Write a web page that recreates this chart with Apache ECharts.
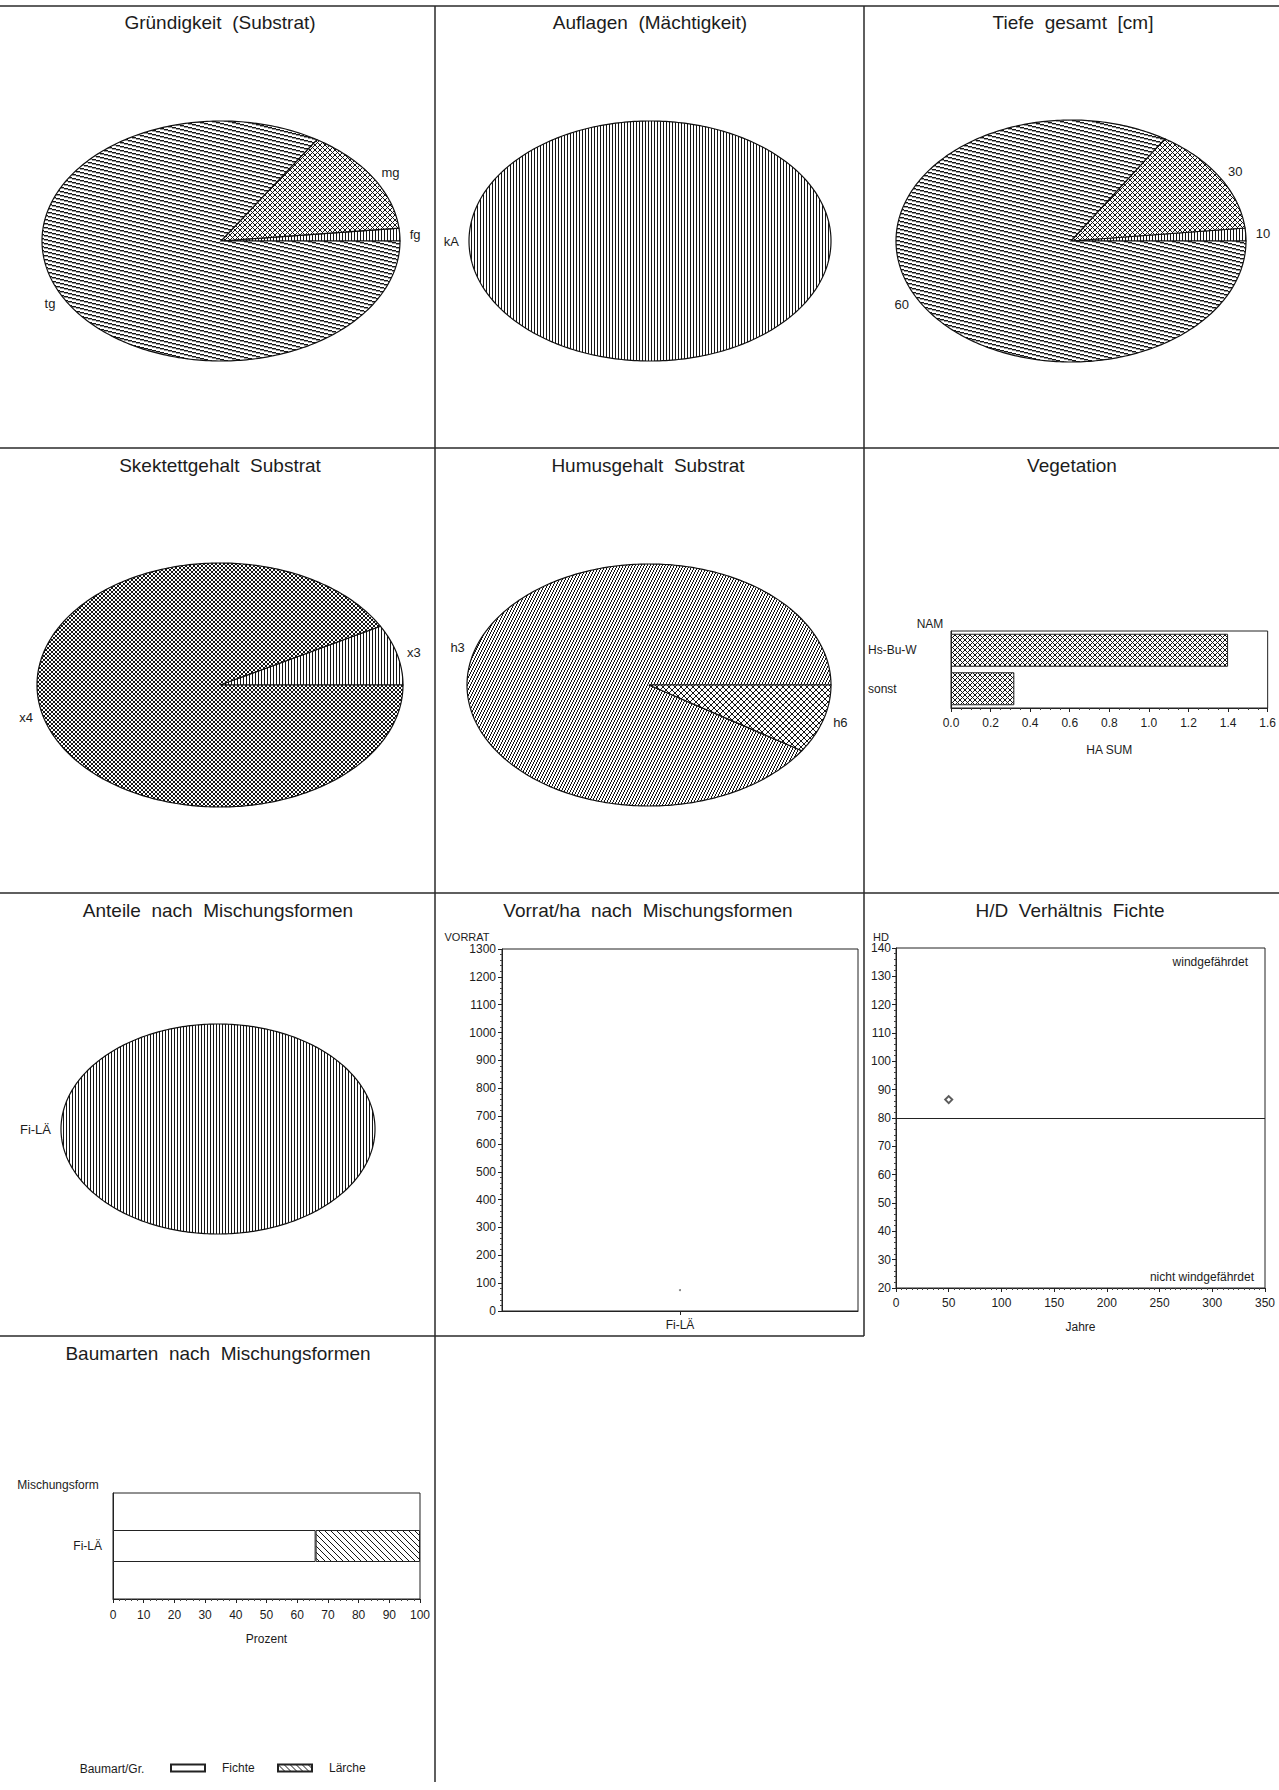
<!DOCTYPE html>
<html><head><meta charset="utf-8">
<script src="https://cdn.jsdelivr.net/npm/echarts@6/dist/echarts.min.js"></script>
<style>html,body{margin:0;padding:0;background:#fff}#c{width:1279px;height:1790px}</style>
</head><body><div id="c"></div>
<script>
// ---------------- data ----------------
const gruendCats = ['fg', 'mg', 'tg'];
const gruendVals = [0.03, 0.25, 1.47];
const auflCats = ['kA'];
const auflVals = [1.75];
const tiefeCats = ['10', '30', '60'];
const tiefeVals = [0.03, 0.25, 1.47];
const skelCats = ['x3', 'x4'];
const skelVals = [0.14, 1.61];
const humusCats = ['h3', 'h6'];
const humusVals = [1.59, 0.16];
const mischCats = ['Fi-LÄ'];
const mischVals = [1.75];

const vegCats = ['Hs-Bu-W', 'sonst'];
const vegVals = [1.40, 0.32];
const vegTicks = [0, 0.2, 0.4, 0.6, 0.8, 1.0, 1.2, 1.4, 1.6];

const vorratCats = ['Fi-LÄ'];
const vorratVals = [75];
const vorratTicks = [0, 100, 200, 300, 400, 500, 600, 700, 800, 900, 1000, 1100, 1200, 1300];

const hdAge = [50];
const hdVals = [86.5];
const hdLimit = 80;
const hdXTicks = [0, 50, 100, 150, 200, 250, 300, 350];
const hdYTicks = [20, 30, 40, 50, 60, 70, 80, 90, 100, 110, 120, 130, 140];

const baumCats = ['Fi-LÄ'];
const fichteVals = [66];
const laercheVals = [34];
const baumTicks = [0, 10, 20, 30, 40, 50, 60, 70, 80, 90, 100];

// ---------------- styling helpers ----------------
const FONT = '"Liberation Sans", Arial, Helvetica, sans-serif';
const INK = '#1c1c1c';

function pat(w, h, pixelFn) {
  const c = document.createElement('canvas');
  c.width = w; c.height = h;
  const g = c.getContext('2d');
  g.fillStyle = '#fff'; g.fillRect(0, 0, w, h);
  for (let y = 0; y < h; y++) for (let x = 0; x < w; x++) {
    const r = pixelFn(x, y, w, h);
    if (r) { g.fillStyle = (typeof r === 'string') ? r : '#151515'; g.fillRect(x, y, 1, 1); }
  }
  return { type: 'pattern', image: c, repeat: 'repeat', imageWidth: w, imageHeight: h };
}
const P = {
  vert: pat(3, 3, (x) => x === 0),
  shallow: pat(16, 4, (x, y) => y === Math.floor(x / 4) ? true : (y === (Math.floor(x / 4) + 1) % 4 ? '#9a9a9a' : false)),
  cross5: pat(5, 5, (x, y) => x === y || x + y === 4),
  cross4: pat(4, 4, (x, y) => x === y || x + y === 3),
  cross6: pat(6, 6, (x, y) => x === y || x + y === 5),
  steep: pat(3, 6, (x, y) => x === ((5 - y) >> 1)),
  back: pat(6, 6, (x, y) => x === y)
};

function ellipsePie(cats, vals, geo, pats) {
  const total = vals.reduce((a, b) => a + b, 0);
  const starts = [];
  let acc = 0;
  vals.forEach(v => { starts.push(acc); acc += v; });
  return {
    type: 'custom',
    coordinateSystem: 'none',
    silent: true,
    data: vals,
    renderItem: function (params, api) {
      const i = params.dataIndex;
      const v = api.value(0);
      const a0 = starts[i] / total * Math.PI * 2;
      const a1 = (starts[i] + v) / total * Math.PI * 2;
      const full = (a1 - a0) > Math.PI * 2 - 1e-6;
      const pts = [];
      if (!full) pts.push([geo.cx, geo.cy]);
      const n = Math.max(4, Math.ceil((a1 - a0) / (Math.PI / 180)));
      for (let k = 0; k <= n; k++) {
        const a = a0 + (a1 - a0) * k / n;
        pts.push([geo.cx + geo.rx * Math.cos(a), geo.cy - geo.ry * Math.sin(a)]);
      }
      const mid = (a0 + a1) / 2;
      const c = Math.cos(mid), s = Math.sin(mid);
      const lx = geo.cx + (geo.rx + 10) * c;
      const ly = geo.cy - (geo.ry + 10) * s;
      const al = c > 0.15 ? 'left' : (c < -0.15 ? 'right' : 'center');
      return {
        type: 'group',
        children: [
          { type: 'polygon', shape: { points: pts }, style: { fill: pats[i], stroke: '#111', lineWidth: 1.2 } },
          { type: 'text', style: { text: cats[i], x: lx, y: ly, fill: INK, font: '13px ' + FONT,
              textAlign: al, align: al, textVerticalAlign: 'middle', verticalAlign: 'middle' } }
        ]
      };
    }
  };
}

const axLine = { show: true, lineStyle: { color: '#222', width: 1 } };
const axLabel = (extra) => Object.assign({ color: INK, fontSize: 12, fontFamily: FONT }, extra || {});
const nameStyle = { color: INK, fontSize: 12, fontFamily: FONT };

function txt(x, y, text, size, align, extra) {
  return Object.assign({ type: 'text', x: x, y: y, silent: true,
    style: { text: text, fill: INK, font: size + 'px ' + FONT, textAlign: align || 'center', align: align || 'center',
             textVerticalAlign: 'middle', verticalAlign: 'middle' } }, extra || {});
}
function ln(x1, y1, x2, y2) {
  return { type: 'line', silent: true, shape: { x1: x1, y1: y1, x2: x2, y2: y2 }, style: { stroke: '#2a2a2a', lineWidth: 1.5 } };
}

const T = 19; // title size
const graphics = [
  ln(0, 6, 1279, 6), ln(0, 448, 1279, 448), ln(0, 893, 1279, 893), ln(0, 1336, 864, 1336),
  ln(435, 6, 435, 1782), ln(864, 6, 864, 1336),
  txt(220, 22, 'Gründigkeit  (Substrat)', T), txt(650, 22, 'Auflagen  (Mächtigkeit)', T), txt(1073, 22, 'Tiefe  gesamt  [cm]', T),
  txt(220, 465, 'Skektettgehalt  Substrat', T), txt(648, 465, 'Humusgehalt  Substrat', T), txt(1072, 465, 'Vegetation', T),
  txt(218, 910, 'Anteile  nach  Mischungsformen', T), txt(648, 910, 'Vorrat/ha  nach  Mischungsformen', T), txt(1070, 910, 'H/D  Verhältnis  Fichte', T),
  txt(218, 1353, 'Baumarten  nach  Mischungsformen', T),
  txt(930, 624, 'NAM', 12), txt(467, 937, 'VORRAT', 11), txt(881, 937, 'HD', 11), txt(58, 1485, 'Mischungsform', 12),
  txt(1248, 962, 'windgefährdet', 12, 'right'), txt(1254, 1277, 'nicht windgefährdet', 12, 'right'),
  txt(112, 1769, 'Baumart/Gr.', 12)
];

const legendText = { color: INK, fontSize: 12, fontFamily: FONT, padding: [0, 0, 0, 12] };

const chart = echarts.init(document.getElementById('c'), null, { renderer: 'svg' });
chart.setOption({
  backgroundColor: '#fff',
  animation: false,
  textStyle: { fontFamily: FONT, color: INK },
  graphic: { elements: graphics },
  legend: [
    { data: ['Fichte'], left: 170, top: 1762, itemWidth: 34, itemHeight: 7, icon: 'rect', textStyle: legendText, selectedMode: false, padding: 0 },
    { data: ['Lärche'], left: 277, top: 1762, itemWidth: 34, itemHeight: 7, icon: 'rect', textStyle: legendText, selectedMode: false, padding: 0 }
  ],
  grid: [
    { left: 951, top: 631, width: 317, height: 77, show: true, borderColor: '#222', borderWidth: 1, backgroundColor: 'transparent' },
    { left: 502, top: 949, width: 356, height: 362, show: true, borderColor: '#222', borderWidth: 1, backgroundColor: 'transparent' },
    { left: 896, top: 948, width: 369, height: 340, show: true, borderColor: '#222', borderWidth: 1, backgroundColor: 'transparent' },
    { left: 113, top: 1493, width: 307, height: 106, show: true, borderColor: '#222', borderWidth: 1, backgroundColor: 'transparent' }
  ],
  xAxis: [
    { gridIndex: 0, type: 'value', min: vegTicks[0], max: vegTicks[vegTicks.length - 1], interval: vegTicks[1] - vegTicks[0],
      axisLine: axLine, axisTick: { show: true, length: 4, lineStyle: { color: '#222' } },
      minorTick: { show: true, splitNumber: 4, length: 2, lineStyle: { color: '#444' } },
      splitLine: { show: false }, axisLabel: axLabel({ margin: 9, formatter: v => v.toFixed(1) }),
      name: 'HA SUM', nameLocation: 'middle', nameGap: 36, nameTextStyle: nameStyle },
    { gridIndex: 1, type: 'category', data: vorratCats, axisLine: axLine,
      axisTick: { show: true, alignWithLabel: true, length: 4, lineStyle: { color: '#222' } },
      axisLabel: axLabel({ margin: 8 }) },
    { gridIndex: 2, type: 'value', min: hdXTicks[0], max: hdXTicks[hdXTicks.length - 1], interval: hdXTicks[1] - hdXTicks[0],
      axisLine: axLine, axisTick: { show: true, length: 4, lineStyle: { color: '#222' } },
      minorTick: { show: true, splitNumber: 10, length: 2, lineStyle: { color: '#444' } },
      splitLine: { show: false }, axisLabel: axLabel({ margin: 9 }),
      name: 'Jahre', nameLocation: 'middle', nameGap: 33, nameTextStyle: nameStyle },
    { gridIndex: 3, type: 'value', min: baumTicks[0], max: baumTicks[baumTicks.length - 1], interval: baumTicks[1] - baumTicks[0],
      axisLine: axLine, axisTick: { show: true, length: 4, lineStyle: { color: '#222' } },
      minorTick: { show: true, splitNumber: 5, length: 2, lineStyle: { color: '#444' } },
      splitLine: { show: false }, axisLabel: axLabel({ margin: 10 }),
      name: 'Prozent', nameLocation: 'middle', nameGap: 34, nameTextStyle: nameStyle }
  ],
  yAxis: [
    { gridIndex: 0, type: 'category', data: vegCats, inverse: true, axisLine: axLine, axisTick: { show: false },
      axisLabel: axLabel({ align: 'left', margin: 83 }) },
    { gridIndex: 1, type: 'value', min: vorratTicks[0], max: vorratTicks[vorratTicks.length - 1], interval: vorratTicks[1] - vorratTicks[0],
      axisLine: axLine, axisTick: { show: true, length: 4, lineStyle: { color: '#222' } },
      minorTick: { show: true, splitNumber: 5, length: 2, lineStyle: { color: '#444' } },
      splitLine: { show: false }, axisLabel: axLabel({ margin: 6, formatter: v => String(v) }) },
    { gridIndex: 2, type: 'value', min: hdYTicks[0], max: hdYTicks[hdYTicks.length - 1], interval: hdYTicks[1] - hdYTicks[0],
      axisLine: axLine, axisTick: { show: true, length: 4, lineStyle: { color: '#222' } },
      minorTick: { show: true, splitNumber: 5, length: 2, lineStyle: { color: '#444' } },
      splitLine: { show: false }, axisLabel: axLabel({ margin: 5, formatter: v => String(v) }) },
    { gridIndex: 3, type: 'category', data: baumCats, axisLine: axLine, axisTick: { show: false },
      axisLabel: axLabel({ margin: 11 }) }
  ],
  series: [
    ellipsePie(gruendCats, gruendVals, { cx: 221, cy: 241, rx: 179, ry: 120 }, [P.vert, P.cross5, P.shallow]),
    ellipsePie(auflCats, auflVals, { cx: 650, cy: 241, rx: 181, ry: 120 }, [P.vert]),
    ellipsePie(tiefeCats, tiefeVals, { cx: 1071, cy: 241, rx: 175, ry: 121 }, [P.vert, P.cross5, P.shallow]),
    ellipsePie(skelCats, skelVals, { cx: 220, cy: 685, rx: 183, ry: 122 }, [P.vert, P.cross4]),
    ellipsePie(humusCats, humusVals, { cx: 649, cy: 685, rx: 182, ry: 121 }, [P.steep, P.cross6]),
    ellipsePie(mischCats, mischVals, { cx: 218, cy: 1129, rx: 157, ry: 105 }, [P.vert]),
    { type: 'bar', xAxisIndex: 0, yAxisIndex: 0, data: vegVals, barWidth: 33, silent: true,
      itemStyle: { color: P.cross5, borderColor: '#222', borderWidth: 1 } },
    { type: 'scatter', xAxisIndex: 1, yAxisIndex: 1, data: vorratVals, symbol: 'circle', symbolSize: 2, silent: true,
      itemStyle: { color: '#555' } },
    { type: 'scatter', xAxisIndex: 2, yAxisIndex: 2, data: hdAge.map((a, i) => [a, hdVals[i]]), symbol: 'emptyDiamond',
      symbolSize: 7, silent: true, itemStyle: { color: '#333', borderColor: '#333', borderWidth: 1 },
      markLine: { silent: true, symbol: 'none', label: { show: false }, lineStyle: { color: '#222', type: 'solid', width: 1 },
        data: [{ yAxis: hdLimit }] } },
    { name: 'Fichte', type: 'bar', stack: 'b', xAxisIndex: 3, yAxisIndex: 3, data: fichteVals, barWidth: 32, silent: true,
      itemStyle: { color: '#fff', borderColor: '#222', borderWidth: 1 } },
    { name: 'Lärche', type: 'bar', stack: 'b', xAxisIndex: 3, yAxisIndex: 3, data: laercheVals, barWidth: 32, silent: true,
      itemStyle: { color: P.back, borderColor: '#222', borderWidth: 1 } }
  ]
});
</script></body></html>
